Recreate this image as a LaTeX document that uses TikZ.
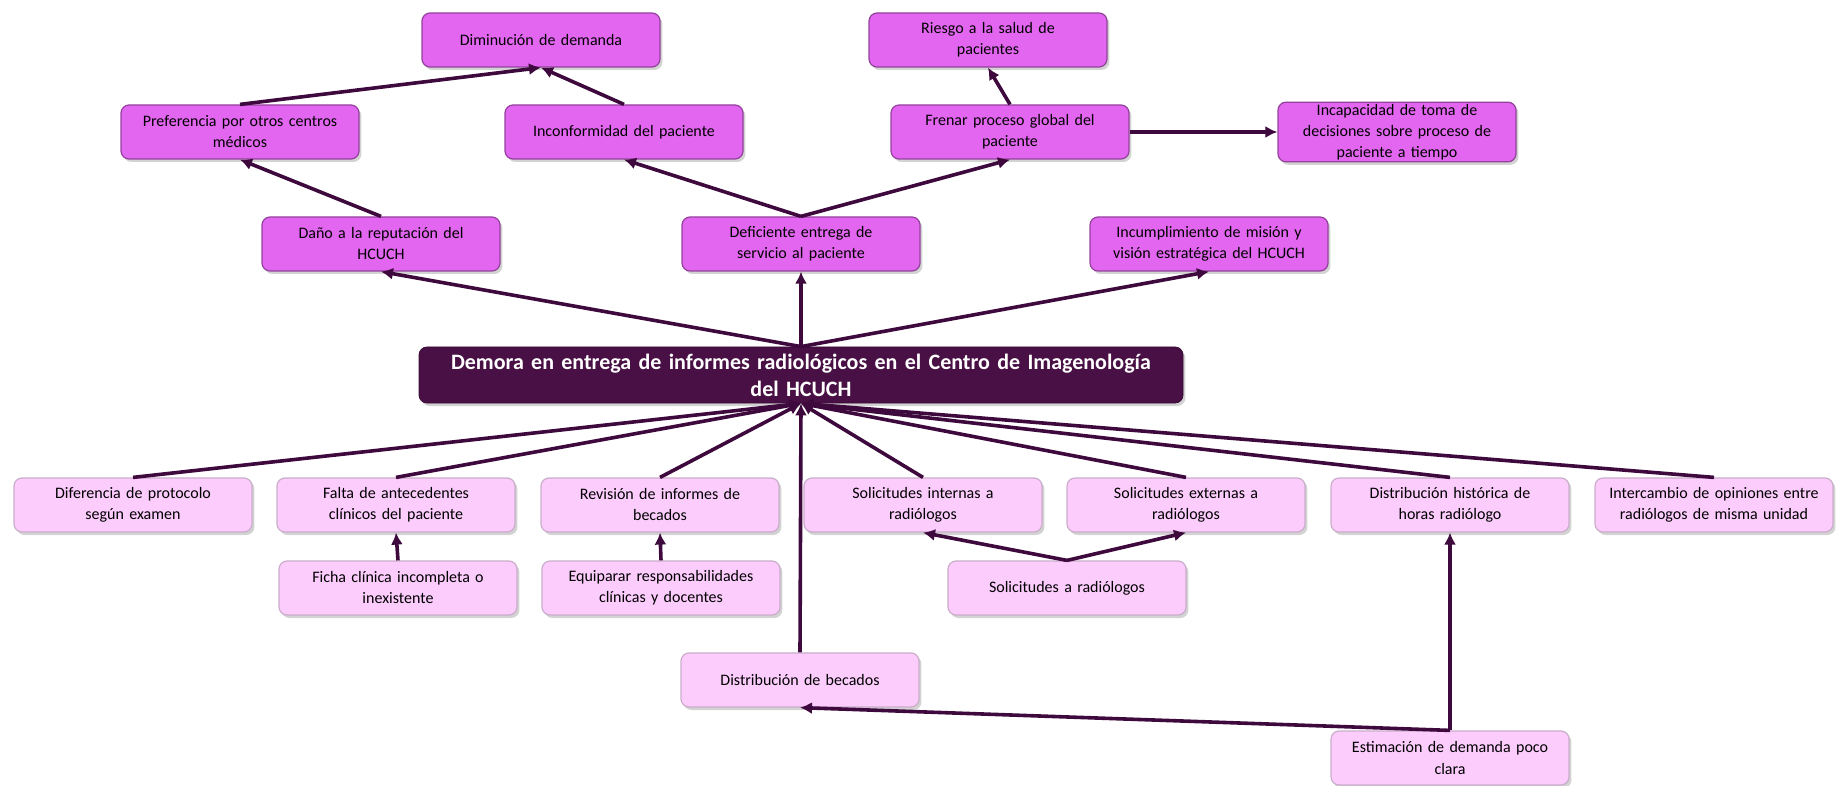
\documentclass[tikz,border=0pt]{standalone}
\usepackage{fontspec}
\setmainfont{Carlito}
\usetikzlibrary{shadows,arrows.meta}
\definecolor{efectocol}{RGB}{226,102,240}
\definecolor{causacol}{RGB}{252,204,252}
\definecolor{problemacol}{RGB}{72,16,68}
\definecolor{lineacol}{RGB}{62,10,62}
\tikzstyle{caja}=[rectangle,rounded corners=4pt,minimum width=119pt,minimum height=27pt,
  text width=112pt,align=center,inner sep=1pt,font=\fontsize{8}{10.5}\selectfont,
  drop shadow={shadow xshift=1.2pt,shadow yshift=-1.5pt,opacity=0.35}]
\tikzstyle{efecto}=[caja,fill=efectocol,draw=efectocol!65!black,line width=0.6pt]
\tikzstyle{causa}=[caja,fill=causacol,draw=causacol!60!gray,line width=0.6pt]
\tikzstyle{problema}=[caja,fill=problemacol,draw=problemacol!80!black,minimum width=382pt,
  minimum height=28pt,text width=370pt,text=white,font=\fontsize{11}{13.5}\selectfont\bfseries]
\tikzstyle{flecha}=[draw=lineacol,line width=1.8pt,-{Latex[length=6pt,width=6pt]}]

\begin{document}
\begin{tikzpicture}[x=0.5pt,y=-0.5pt]
	\useasboundingbox (0,0) rectangle (1837,786);
	% problema central
	\node[problema] (prob) at (801,375) {Demora en entrega de informes radiológicos en el Centro de Imagenología\\del HCUCH};
	% efectos
	\node[efecto] (dimin) at (541,40) {Diminución de demanda};
	\node[efecto] (pref) at (240,132) {Preferencia por otros centros\\médicos};
	\node[efecto] (inconf) at (624,132) {Inconformidad del paciente};
	\node[efecto] (riesgo) at (988,40) {Riesgo a la salud de\\pacientes};
	\node[efecto] (frenar) at (1010,132) {Frenar proceso global del\\paciente};
	\node[efecto] (incap) at (1397,132) {Incapacidad de toma de\\decisiones sobre proceso de\\paciente a tiempo};
	\node[efecto] (dano) at (381,244) {Daño a la reputación del\\HCUCH};
	\node[efecto] (defic) at (801,244) {Deficiente entrega de\\servicio al paciente};
	\node[efecto] (incump) at (1209,244) {Incumplimiento de misión y\\visión estratégica del HCUCH};
	% causas
	\node[causa] (difer) at (133,505) {Diferencia de protocolo\\según examen};
	\node[causa] (falta) at (396,505) {Falta de antecedentes\\clínicos del paciente};
	\node[causa] (revis) at (660,505) {Revisión de informes de\\becados};
	\node[causa] (solint) at (923,505) {Solicitudes internas a\\radiólogos};
	\node[causa] (solext) at (1186,505) {Solicitudes externas a\\radiólogos};
	\node[causa] (disthist) at (1450,505) {Distribución histórica de\\horas radiólogo};
	\node[causa] (interc) at (1714,505) {Intercambio de opiniones entre\\radiólogos de misma unidad};
	\node[causa] (ficha) at (398,588) {Ficha clínica incompleta o\\inexistente};
	\node[causa] (equip) at (661,588) {Equiparar responsabilidades\\clínicas y docentes};
	\node[causa] (solrad) at (1067,588) {Solicitudes a radiólogos};
	\node[causa] (becados) at (800,680) {Distribución de becados};
	\node[causa] (estim) at (1450,758) {Estimación de demanda poco\\clara};

	% conexiones de efectos
	\draw[flecha] (prob.north) -- (dano.south);
	\draw[flecha] (prob.north) -- (defic.south);
	\draw[flecha] (prob.north) -- (incump.south);
	\draw[flecha] (dano.north) -- (pref.south);
	\draw[flecha] (pref.north) -- (dimin.south);
	\draw[flecha] (inconf.north) -- (dimin.south);
	\draw[flecha] (defic.north) -- (inconf.south);
	\draw[flecha] (defic.north) -- (frenar.south);
	\draw[flecha] (frenar.north) -- (riesgo.south);
	\draw[flecha] (frenar.east) -- (incap.west);
	% conexiones de causas
	\foreach \c in {difer,falta,revis,solint,solext,disthist,interc,becados}
	  \draw[flecha] (\c.north) -- (prob.south);
	\draw[flecha] (ficha.north) -- (falta.south);
	\draw[flecha] (equip.north) -- (revis.south);
	\draw[flecha] (solrad.north) -- (solint.south);
	\draw[flecha] (solrad.north) -- (solext.south);
	\draw[flecha] (estim.north) -- (becados.south);
	\draw[flecha] (estim.north) -- (disthist.south);
\end{tikzpicture}
\end{document}
